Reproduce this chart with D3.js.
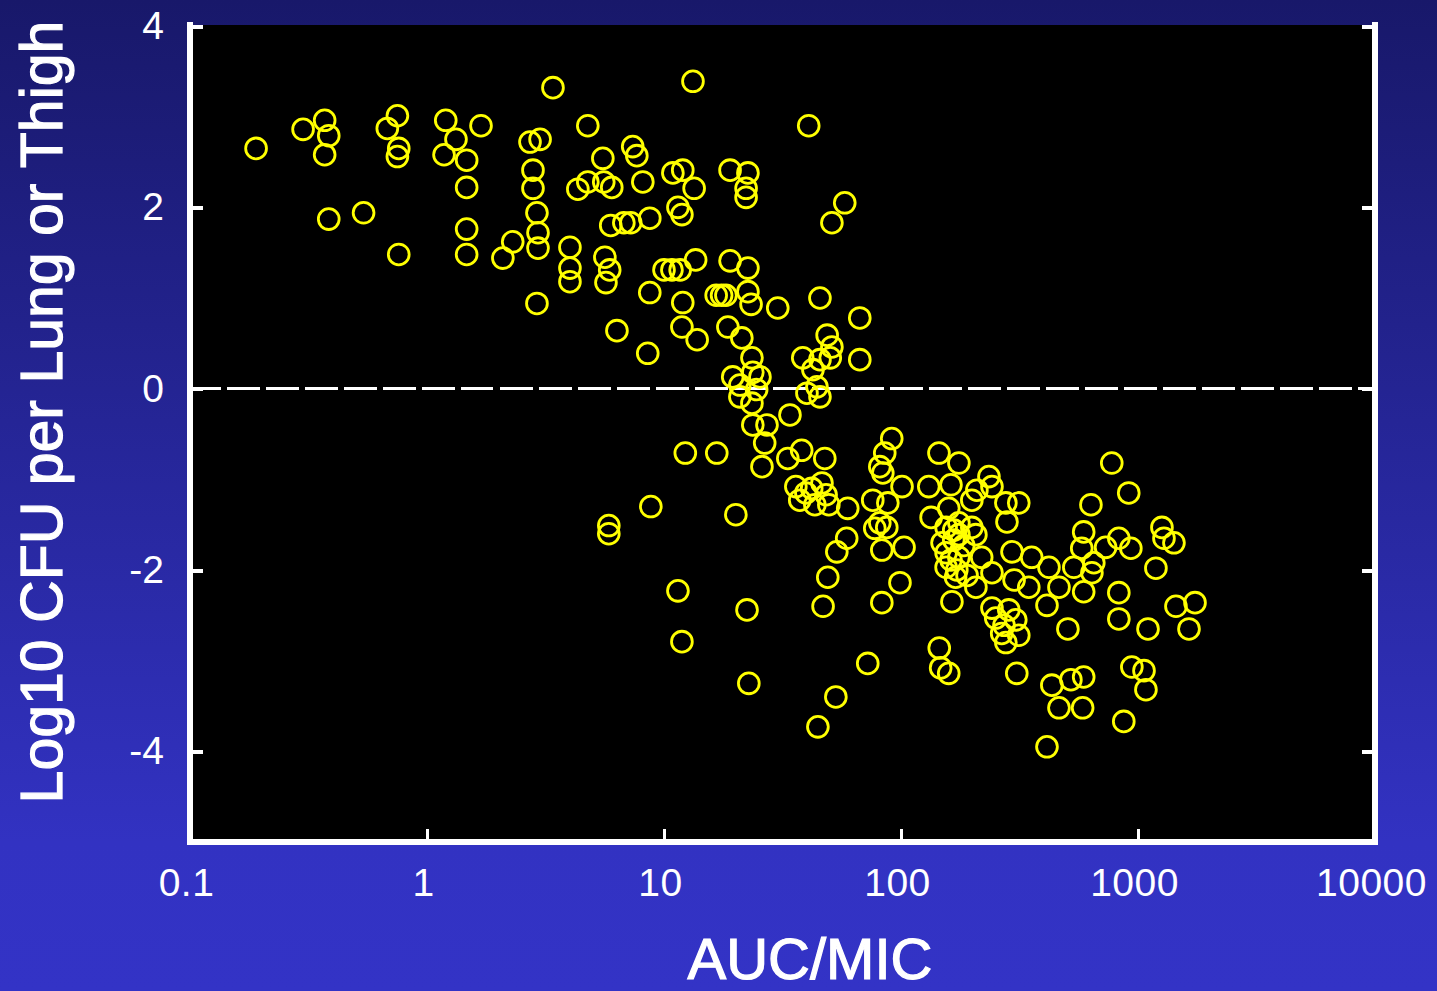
<!DOCTYPE html>
<html>
<head>
<meta charset="utf-8">
<script src="https://cdn.jsdelivr.net/npm/d3@7"></script>
<style>
  html, body { margin: 0; padding: 0; background: #1a1a6a; }
  svg { display: block; }
  text { font-family: "Liberation Sans", Arial, sans-serif; fill: #ffffff; }
</style>
</head>
<body>
<svg id="chart" width="1437" height="991"></svg>
<script>
// AUC/MIC ratio for each animal (x) and change in log10 CFU (y)
const aucMic = [
  0.19, 0.30, 0.37, 0.385, 0.37, 0.75, 0.68, 0.76, 0.75, 1.20,
  1.325, 1.18, 1.47, 1.69, 1.47, 0.385, 0.54, 0.76, 1.47, 1.47,
  3.40, 13.25, 2.72, 3.00, 4.77, 7.38, 7.68, 5.52, 8.14, 2.80,
  2.80, 2.91, 2.94, 2.94, 2.30, 2.09, 4.33, 4.77, 5.57, 6.02,
  10.9, 12.0, 13.4, 11.45, 11.9, 19.0, 22.6, 22.2, 22.2, 5.96,
  6.77, 7.24, 8.71, 4.01, 4.01, 4.01, 5.63, 5.90, 5.69, 10.0,
  10.8, 11.7, 13.6, 19.0, 22.6, 8.71, 12.0, 16.6, 17.5, 18.25,
  22.6, 23.3, 30.2, 45.5, 67.0, 2.91, 6.33, 8.54, 11.9, 13.8,
  18.6, 21.3, 23.5, 23.7, 25.4, 19.5, 20.9, 23.5, 23.7, 27.2,
  34.0, 26.6, 25.9, 12.3, 16.7, 38.5, 48.8, 51.1, 50.3, 45.5,
  67.0, 40.1, 45.5, 44.2, 33.3, 38.1, 47.7, 8.80, 5.85, 5.85,
  20.1, 11.45, 22.4, 11.9, 22.8, 40.8, 57.9, 51.1,
  91.4, 85.4, 81.4, 83.8, 36.0, 37.4, 46.4, 48.3, 43.3, 49.6,
  59.6, 76.0, 88.0, 101, 81.4, 77.5, 87.1, 59.0, 53.6, 83.0,
  103, 49.1, 46.9, 99, 83.0, 72.4, 53.1, 44.6, 144.6, 175.5,
  235, 131, 162.5, 209, 242, 277, 314, 280, 134, 159,
  155, 175.5, 199, 207, 149, 167, 155, 175.5, 155, 172,
  170, 219, 242, 294, 356, 421, 300, 346, 164, 207,
  242, 251, 266, 305, 314, 277, 413, 145, 147, 159, 308,
  775, 914, 633, 1262, 1287, 1418, 590, 830, 933, 730,
  579, 651, 536, 639, 1190, 464, 590, 830, 830, 1446,
  1740, 1102, 1641, 506, 942, 1060, 1080, 433, 521, 590,
  464, 584, 871, 413, 199,
  39.7, 42.0, 167, 184, 162.5, 175.5, 190, 272, 285, 20.9, 24.6, 42.5
];
const log10Cfu = [
  2.65, 2.86, 2.96, 2.79, 2.58, 3.01, 2.87, 2.65, 2.56, 2.96,
  2.75, 2.58, 2.52, 2.90, 2.22, 1.87, 1.94, 1.48, 1.76, 1.48,
  3.32, 3.39, 2.72, 2.75, 2.90, 2.67, 2.57, 2.54, 2.28, 2.41,
  2.21, 1.94, 1.72, 1.55, 1.62, 1.44, 2.20, 2.28, 2.28, 2.22,
  2.38, 2.41, 2.21, 2.00, 1.92, 2.41, 2.38, 2.21, 2.11, 1.80,
  1.83, 1.83, 1.88, 1.56, 1.33, 1.18, 1.45, 1.31, 1.17, 1.31,
  1.31, 1.31, 1.42, 1.41, 1.33, 1.06, 0.95, 1.03, 1.03, 1.03,
  1.07, 0.93, 0.89, 1.00, 0.78, 0.94, 0.64, 0.39, 0.68, 0.54,
  0.68, 0.56, 0.34, 0.18, 0.13, 0.13, -0.09, -0.16, -0.40, -0.40,
  -0.29, -0.60, -0.86, -0.71, -0.71, 0.34, 0.59, 0.46, 0.34, 0.32,
  0.32, -0.05, -0.09, 0.02, -0.77, -0.68, -0.77, -1.30, -1.51, -1.60,
  -1.39, -2.23, -2.44, -2.79, -3.25, 2.90, 2.05, 1.83,
  -0.55, -0.71, -0.86, -0.93, -1.08, -1.23, -1.04, -1.17, -1.28, -1.28,
  -1.32, -1.23, -1.26, -1.08, -1.48, -1.54, -1.53, -1.65, -1.80, -1.78,
  -1.75, -2.08, -2.40, -2.14, -2.36, -3.03, -3.40, -3.73, -0.71, -0.82,
  -0.97, -1.08, -1.06, -1.12, -1.08, -1.26, -1.26, -1.47, -1.42, -1.32,
  -1.53, -1.48, -1.53, -1.61, -1.70, -1.67, -1.81, -1.86, -1.97, -2.00,
  -2.08, -1.86, -2.03, -1.80, -1.86, -1.97, -2.11, -2.19, -2.35, -2.19,
  -2.42, -2.53, -2.70, -2.55, -2.72, -2.80, -2.39, -2.86, -3.08, -3.14, -3.14,
  -0.82, -1.15, -1.28, -1.53, -1.65, -1.70, -1.58, -1.65, -1.76, -1.75,
  -1.76, -1.92, -1.97, -2.03, -1.98, -2.19, -2.24, -2.25, -2.54, -2.40,
  -2.36, -2.65, -2.65, -2.65, -3.07, -3.11, -3.32, -3.27, -3.21, -3.18,
  -3.52, -3.52, -3.67, -3.95, -1.23,
  -1.15, -1.10, -1.56, -1.73, -1.89, -1.61, -2.06, -2.61, -2.44, 0.04, -0.01, 0.21
];

// Axis ticks and labels
const xTicks = [0.1, 1, 10, 100, 1000, 10000];
const xTickLabels = ["0.1", "1", "10", "100", "1000", "10000"];
const yTicks = [4, 2, 0, -2, -4];
const yTickLabels = ["4", "2", "0", "-2", "-4"];
const xTitle = "AUC/MIC";
const yTitle = "Log10 CFU per Lung or Thigh";

const points = aucMic.map((v, i) => ({ x: v, y: log10Cfu[i] }));

const svg = d3.select("#chart");
const W = 1437, H = 991;

// Background: vertical gradient from dark navy to bright blue
const defs = svg.append("defs");
const grad = defs.append("linearGradient")
  .attr("id", "bg").attr("x1", 0).attr("y1", 0).attr("x2", 0).attr("y2", 1);
grad.append("stop").attr("offset", "0%").attr("stop-color", "#18186a");
grad.append("stop").attr("offset", "85%").attr("stop-color", "#3232c2");
grad.append("stop").attr("offset", "100%").attr("stop-color", "#3333c6");
svg.append("rect").attr("width", W).attr("height", H).attr("fill", "url(#bg)");

const plotLeft = 190, plotRight = 1375, plotTop = 25, plotBottom = 842;

const x = d3.scaleLog().domain([0.1, 10000]).range([plotLeft, plotRight]);
const y = d3.scaleLinear().domain([-5, 4]).range([plotBottom, 26]);

// Plot area
svg.append("rect")
  .attr("x", plotLeft).attr("y", plotTop)
  .attr("width", plotRight - plotLeft).attr("height", plotBottom - plotTop)
  .attr("fill", "#000000");

// Zero reference line
svg.append("line")
  .attr("x1", plotLeft + 3).attr("x2", plotRight - 3)
  .attr("y1", y(0)).attr("y2", y(0))
  .attr("stroke", "#ffffff").attr("stroke-width", 3)
  .attr("stroke-dasharray", "32.5,6.5")
  .attr("stroke-dashoffset", 5)
  .attr("shape-rendering", "crispEdges");

// Data points, clipped to the plot area
const ptsClip = defs.append("clipPath").attr("id", "plotClip");
ptsClip.append("rect").attr("x", plotLeft).attr("y", plotTop)
  .attr("width", plotRight - plotLeft).attr("height", plotBottom - plotTop);

svg.append("g").attr("clip-path", "url(#plotClip)")
  .selectAll("circle")
  .data(points)
  .join("circle")
  .attr("cx", d => x(d.x))
  .attr("cy", d => y(d.y))
  .attr("r", 10.4)
  .attr("fill", "none")
  .attr("stroke", "#ffff00")
  .attr("stroke-width", 2.8);

// Bottom axis: inward ticks, labels below
const xAxis = d3.axisBottom(x)
  .tickValues(xTicks)
  .tickFormat((d, i) => xTickLabels[i])
  .tickSizeInner(-10).tickSizeOuter(0).tickPadding(26);
const gx = svg.append("g").attr("transform", `translate(0,${plotBottom - 3})`).call(xAxis);
gx.select(".domain").remove();
gx.selectAll(".tick line").attr("stroke", "#ffffff").attr("stroke-width", 3)
  .attr("shape-rendering", "crispEdges");
gx.selectAll(".tick text")
  .attr("fill", "#ffffff").attr("font-size", 39)
  .attr("font-family", "'Liberation Sans', Arial, sans-serif")
  .attr("letter-spacing", 0.5)
  .attr("x", -4).attr("y", 29);

// Left axis: inward ticks, labels at left
const yAxis = d3.axisLeft(y)
  .tickValues(yTicks)
  .tickFormat((d, i) => yTickLabels[i])
  .tickSizeInner(-10).tickSizeOuter(0).tickPadding(26);
const gy = svg.append("g").attr("transform", `translate(${plotLeft + 3},0)`).call(yAxis);
gy.select(".domain").remove();
gy.selectAll(".tick line").attr("stroke", "#ffffff").attr("stroke-width", 4)
  .attr("shape-rendering", "crispEdges");
gy.selectAll(".tick text")
  .attr("fill", "#ffffff").attr("font-size", 39)
  .attr("font-family", "'Liberation Sans', Arial, sans-serif")
  .attr("x", -29).attr("dy", "0.32em");

// Right axis: inward ticks only
const yAxisR = d3.axisRight(y)
  .tickValues(yTicks)
  .tickFormat("")
  .tickSizeInner(-10).tickSizeOuter(0);
const gyr = svg.append("g").attr("transform", `translate(${plotRight - 3},0)`).call(yAxisR);
gyr.select(".domain").remove();
gyr.selectAll(".tick line").attr("stroke", "#ffffff").attr("stroke-width", 4)
  .attr("shape-rendering", "crispEdges");

// Frame on left, bottom and right
svg.append("path")
  .attr("d", `M${plotLeft},22 V${plotBottom} H${plotRight} V22`)
  .attr("fill", "none")
  .attr("stroke", "#ffffff")
  .attr("stroke-width", 6)
  .attr("stroke-linejoin", "miter");

// Axis titles
svg.append("text")
  .attr("x", 810).attr("y", 979)
  .attr("text-anchor", "middle")
  .attr("font-size", 58)
  .attr("stroke", "#ffffff").attr("stroke-width", 1.2)
  .text(xTitle);

svg.append("text")
  .attr("transform", "translate(62,412) rotate(-90)")
  .attr("text-anchor", "middle")
  .attr("font-size", 59)
  .attr("stroke", "#ffffff").attr("stroke-width", 1.2)
  .text(yTitle);
</script>
</body>
</html>
